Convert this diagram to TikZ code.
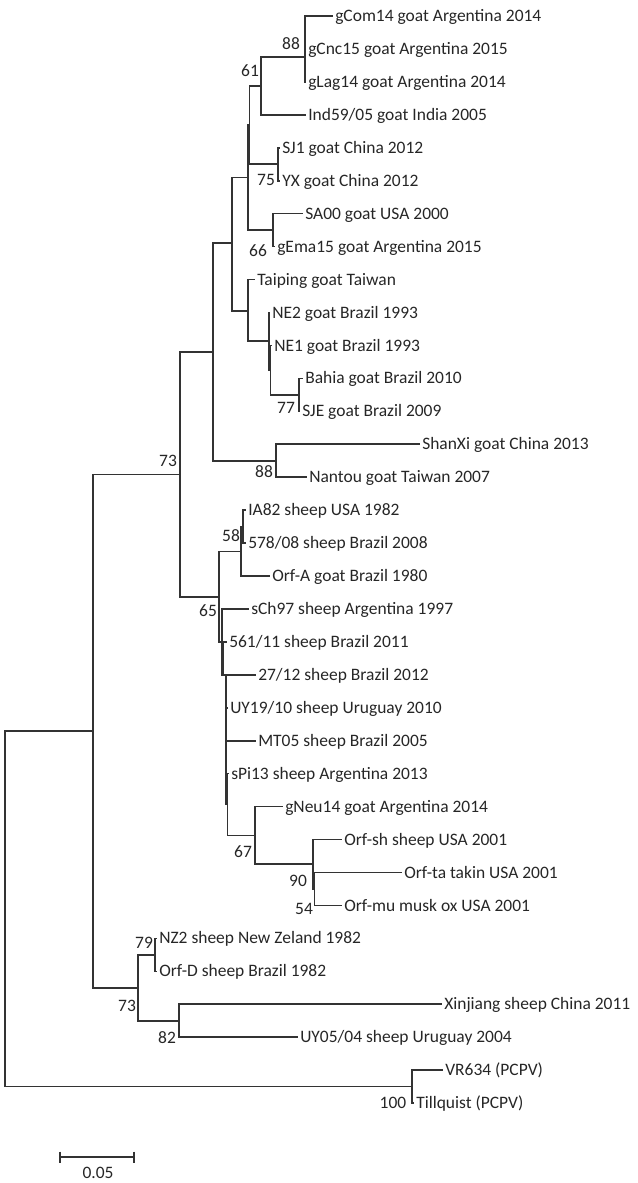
\documentclass[tikz,border=0pt]{standalone}
\usepackage{fontspec}
\setmainfont{Carlito}
\tikzset{
  branch/.style={draw=black!80, line width=1.2pt},
  leaf/.style={anchor=west, inner sep=1.5pt, text height=8.4pt, text depth=0pt, text=black!85},
  boot/.style={inner sep=0pt, text=black!85},
}
\begin{document}
\begin{tikzpicture}[x=0.75pt,y=-0.75pt,font=\fontsize{13.1}{15}\selectfont]
    \useasboundingbox (0,0) rectangle (638,1183);
    % inner nodes of the tree
    \coordinate (root) at (5,908.8);
    \coordinate (nA) at (93,731);
    \coordinate (nB) at (180,474.3);
    \coordinate (nG) at (213,351.7);
    \coordinate (nQ) at (232,242.8);
    \coordinate (nP) at (248,177.5);
    \coordinate (nPi) at (249.5,125);
    \coordinate (n61) at (261,86);
    \coordinate (n88) at (305,57);
    \coordinate (n75) at (278,164.2);
    \coordinate (n66) at (273,230.1);
    \coordinate (nR) at (248,310.8);
    \coordinate (nS) at (269,341.2);
    \coordinate (nSi) at (270.5,370);
    \coordinate (n77) at (299,394.8);
    \coordinate (nSX) at (276,460.7);
    \coordinate (n65) at (219,597);
    \coordinate (n58) at (241,551.3);
    \coordinate (nW) at (243,526.6);
    \coordinate (nT) at (222,642);
    \coordinate (nTi) at (223.5,674.8);
    \coordinate (nU) at (226,674.8);
    \coordinate (nUi) at (227.5,804.5);
    \coordinate (n67) at (255,835.4);
    \coordinate (n90) at (313,864.2);
    \coordinate (n54) at (314.5,888.9);
    \coordinate (nC) at (138,987.8);
    \coordinate (nD) at (155,954.8);
    \coordinate (nE) at (179,1020.7);
    \coordinate (nO) at (412,1086.5);
    % leaves
    \node[leaf] (gCom) at (333,16) {gCom14 goat Argentina 2014};
    \node[leaf] (gCnc) at (306,48.9) {gCnc15 goat Argentina 2015};
    \node[leaf] (gLag) at (306,81.9) {gLag14 goat Argentina 2014};
    \node[leaf] (Ind) at (306,114.8) {Ind59/05 goat India 2005};
    \node[leaf] (SJ) at (280,147.8) {SJ1 goat China 2012};
    \node[leaf] (YX) at (280,180.7) {YX goat China 2012};
    \node[leaf] (SA) at (303,213.6) {SA00 goat USA 2000};
    \node[leaf] (gEma) at (275,246.6) {gEma15 goat Argentina 2015};
    \node[leaf] (Tai) at (255,279.5) {Taiping goat Taiwan};
    \node[leaf] (NEtwo) at (270,312.5) {NE2 goat Brazil 1993};
    \node[leaf] (NEone) at (272,345.4) {NE1 goat Brazil 1993};
    \node[leaf] (Bah) at (303,378.3) {Bahia goat Brazil 2010};
    \node[leaf] (SJE) at (300,411.3) {SJE goat Brazil 2009};
    \node[leaf] (ShX) at (420,444.2) {ShanXi goat China 2013};
    \node[leaf] (Nan) at (307,477.2) {Nantou goat Taiwan 2007};
    \node[leaf] (IA) at (246,510.1) {IA82 sheep USA 1982};
    \node[leaf] (s578) at (246,543) {578/08 sheep Brazil 2008};
    \node[leaf] (OrfA) at (270,576) {Orf-A goat Brazil 1980};
    \node[leaf] (sCh) at (249,608.9) {sCh97 sheep Argentina 1997};
    \node[leaf] (s561) at (227,641.9) {561/11 sheep Brazil 2011};
    \node[leaf] (s27) at (256,674.8) {27/12 sheep Brazil 2012};
    \node[leaf] (UYa) at (228,707.7) {UY19/10 sheep Uruguay 2010};
    \node[leaf] (MT) at (256,740.7) {MT05 sheep Brazil 2005};
    \node[leaf] (sPi) at (229,773.6) {sPi13 sheep Argentina 2013};
    \node[leaf] (gNeu) at (283,806.6) {gNeu14 goat Argentina 2014};
    \node[leaf] (Orfsh) at (342,839.5) {Orf-sh sheep USA 2001};
    \node[leaf] (Orfta) at (402,872.4) {Orf-ta takin USA 2001};
    \node[leaf] (Orfmu) at (342,905.4) {Orf-mu musk ox USA 2001};
    \node[leaf] (NZ) at (157,938.3) {NZ2 sheep New Zeland 1982};
    \node[leaf] (OrfD) at (157,971.3) {Orf-D sheep Brazil 1982};
    \node[leaf] (Xin) at (442,1004.2) {Xinjiang sheep China 2011};
    \node[leaf] (UYb) at (298,1037.1) {UY05/04 sheep Uruguay 2004};
    \node[leaf] (VR) at (443,1070.1) {VR634 (PCPV)};
    \node[leaf] (Till) at (414,1103) {Tillquist (PCPV)};
    % branches
    \draw[branch] (root) |- (nA) (root) |- (nO)
      (nA) |- (nB) (nA) |- (nC)
      (nB) |- (nG) (nB) |- (n65)
      (nG) |- (nQ) (nG) |- (nSX)
      (nQ) |- (nP) (nQ) |- (nR)
      (nP) |- (nPi) (nP) |- (n66)
      (nPi) |- (n61) (nPi) |- (n75)
      (n61) |- (n88) (n61) |- (Ind.west)
      (n88) |- (gCom.west) (n88) |- (gCnc.west) (n88) |- (gLag.west)
      (n75) |- (SJ.west) (n75) |- (YX.west)
      (n66) |- (SA.west) (n66) |- (gEma.west)
      (nR) |- (Tai.west) (nR) |- (nS)
      (nS) |- (NEtwo.west) (nS) |- (nSi)
      (nSi) |- (NEone.west) (nSi) |- (n77)
      (n77) |- (Bah.west) (n77) |- (SJE.west)
      (nSX) |- (ShX.west) (nSX) |- (Nan.west);
    \draw[branch] (n65) |- (n58) (n65) |- (nT)
      (n58) |- (nW) (n58) |- (OrfA.west)
      (nW) |- (IA.west) (nW) |- (s578.west)
      (nT) |- (sCh.west) (nT) |- (nTi)
      (nTi) |- (s561.west) (nTi) |- (s27.west) (nTi) |- (nU)
      (nU) |- (UYa.west) (nU) |- (MT.west) (nU) |- (nUi)
      (nUi) |- (sPi.west) (nUi) |- (n67)
      (n67) |- (gNeu.west) (n67) |- (n90)
      (n90) |- (Orfsh.west) (n90) |- (n54)
      (n54) |- (Orfta.west) (n54) |- (Orfmu.west);
    \draw[branch] (nC) |- (nD) (nC) |- (nE)
      (nD) |- (NZ.west) (nD) |- (OrfD.west)
      (nE) |- (Xin.west) (nE) |- (UYb.west)
      (nO) |- (VR.west) (nO) |- (Till.west);
    % bootstrap values
    \node[boot] (b88a) at (291,44) {88};
    \node[boot] (b61) at (250,71) {61};
    \node[boot] (b75) at (266,180) {75};
    \node[boot] (b66) at (258,251) {66};
    \node[boot] (b77) at (286,408) {77};
    \node[boot] (b88b) at (264,472) {88};
    \node[boot] (b73a) at (168,461) {73};
    \node[boot] (b58) at (231,536) {58};
    \node[boot] (b65) at (208,611) {65};
    \node[boot] (b67) at (243,852) {67};
    \node[boot] (b90) at (298,881) {90};
    \node[boot] (b54) at (304,909) {54};
    \node[boot] (b79) at (144,943) {79};
    \node[boot] (b73b) at (127,1006) {73};
    \node[boot] (b82) at (167,1038) {82};
    \node[boot] (b100) at (393,1103) {100};
    % scale bar
    \coordinate (sbl) at (60,1157);
    \coordinate (sbr) at (134,1157);
    \draw[branch] (sbl) -- (sbr);
    \draw[branch] (sbl) ++(0,-5.5) -- ++(0,11);
    \draw[branch] (sbr) ++(0,-5.5) -- ++(0,11);
    \node[boot] (sblab) at (98,1173) {0.05};
\end{tikzpicture}
\end{document}
